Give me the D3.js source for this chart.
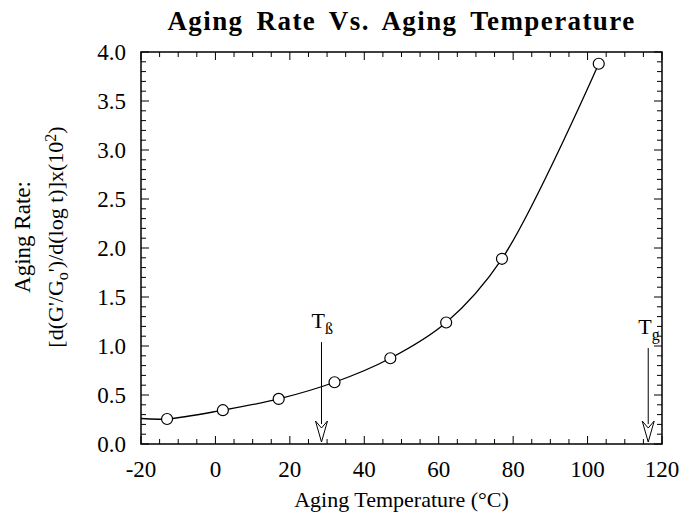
<!DOCTYPE html>
<html>
<head>
<meta charset="utf-8">
<script src="https://cdn.jsdelivr.net/npm/d3@7"></script>
<style>
  body { margin: 0; background: #fff; }
  text { font-family: "Liberation Serif", "Times New Roman", serif; fill: #000; }
</style>
</head>
<body>
<svg width="682" height="515"></svg>
<script>
const svg = d3.select('svg');

// data
const temperatura = [-13, 2, 17, 32, 47, 62, 77, 103];
const taxa = [0.255, 0.345, 0.46, 0.63, 0.875, 1.24, 1.89, 3.88];
const inicioLinha = [-20, 0.26];   // the curve starts on the left axis
const xTicks = [-20, 0, 20, 40, 60, 80, 100, 120];
const yTicks = [0.0, 0.5, 1.0, 1.5, 2.0, 2.5, 3.0, 3.5, 4.0];
const setas = [
  { nome: 'T', sub: 'ß', x: 28.5, topo: 1.04 },
  { nome: 'T', sub: 'g', x: 116.3, topo: 0.98 }
];

const marg = { cima: 52, direita: 20, baixo: 71, esquerda: 141 };
const largura = +svg.attr('width');
const altura = +svg.attr('height');
const innerLargura = largura - marg.esquerda - marg.direita;
const innerAltura = altura - marg.cima - marg.baixo;

const x = d3.scaleLinear().domain([-20, 120]).range([0, innerLargura]);
const y = d3.scaleLinear().domain([0, 4]).range([innerAltura, 0]);

const g = svg.append('g')
  .attr('transform', `translate(${marg.esquerda},${marg.cima})`);

// frame
g.append('rect')
  .attr('width', innerLargura).attr('height', innerAltura)
  .attr('fill', 'none').attr('stroke', '#000').attr('stroke-width', 1.5);

// ticks (inside, all four sides)
const xMinor = d3.range(-20, 120.1, 5);
const yMinor = d3.range(0, 4.001, 0.1);
const ticks = g.append('g').attr('stroke', '#000').attr('stroke-width', 1);
xMinor.forEach(v => {
  const len = (Math.abs(v % 20) < 1e-6) ? 8 : 5;
  ticks.append('line').attr('x1', x(v)).attr('x2', x(v)).attr('y1', innerAltura).attr('y2', innerAltura - len);
  ticks.append('line').attr('x1', x(v)).attr('x2', x(v)).attr('y1', 0).attr('y2', len);
});
yMinor.forEach(v => {
  const maj = Math.abs(v * 2 - Math.round(v * 2)) < 1e-6;
  const len = maj ? 8 : 5;
  ticks.append('line').attr('x1', 0).attr('x2', len).attr('y1', y(v)).attr('y2', y(v));
  ticks.append('line').attr('x1', innerLargura).attr('x2', innerLargura - len).attr('y1', y(v)).attr('y2', y(v));
});

// tick labels
g.append('g').selectAll('text').data(xTicks).enter().append('text')
  .attr('x', d => x(d)).attr('y', innerAltura + 33)
  .attr('text-anchor', 'middle').attr('font-size', 23)
  .text(d => d);
g.append('g').selectAll('text').data(yTicks).enter().append('text')
  .attr('x', -15).attr('y', d => y(d) + 8)
  .attr('text-anchor', 'end').attr('font-size', 23)
  .text(d => d.toFixed(1));

// curve
const pontos = [inicioLinha].concat(temperatura.map((t, i) => [t, taxa[i]]));
const linha = d3.line().x(d => x(d[0])).y(d => y(d[1])).curve(d3.curveCatmullRom.alpha(0.5));
g.append('path').datum(pontos)
  .attr('d', linha).attr('fill', 'none').attr('stroke', '#000').attr('stroke-width', 1.3);

g.selectAll('circle').data(temperatura).enter().append('circle')
  .attr('cx', d => x(d)).attr('cy', (d, i) => y(taxa[i]))
  .attr('r', 5.5).attr('fill', '#fff').attr('stroke', '#000').attr('stroke-width', 1.2);

// arrows
setas.forEach(s => {
  const ax = x(s.x);
  const base = innerAltura - 2;
  g.append('line').attr('x1', ax).attr('x2', ax).attr('y1', y(s.topo)).attr('y2', base - 18)
    .attr('stroke', '#000').attr('stroke-width', 1);
  g.append('path')
    .attr('d', `M${ax - 6},${base - 21} L${ax},${base - 14} L${ax + 6},${base - 21} L${ax},${base} Z`)
    .attr('fill', '#fff').attr('stroke', '#000').attr('stroke-width', 1);
  const t = g.append('text').attr('x', ax - 10).attr('y', y(s.topo) - 14).attr('font-size', 22);
  t.append('tspan').text(s.nome);
  t.append('tspan').attr('dy', 6).attr('font-size', 16).text(s.sub);
});

// title
svg.append('text')
  .attr('x', marg.esquerda + innerLargura / 2).attr('y', 30)
  .attr('text-anchor', 'middle').attr('font-size', 27).attr('font-weight', 'bold')
  .attr('letter-spacing', 1.4).attr('word-spacing', 5)
  .text('Aging Rate Vs. Aging Temperature');

// x axis title
svg.append('text')
  .attr('x', marg.esquerda + innerLargura / 2).attr('y', 507)
  .attr('text-anchor', 'middle').attr('font-size', 22)
  .text('Aging Temperature (°C)');

// y axis title (two lines)
const cy = 237;
svg.append('text')
  .attr('transform', `translate(30,${cy}) rotate(-90)`)
  .attr('text-anchor', 'middle').attr('font-size', 23)
  .text('Aging Rate:');
const yt = svg.append('text')
  .attr('transform', `translate(63,${cy}) rotate(-90)`)
  .attr('text-anchor', 'middle').attr('font-size', 22);
yt.append('tspan').text("[d(G'/G");
yt.append('tspan').attr('dy', 5).attr('font-size', 16).text('o');
yt.append('tspan').attr('dy', -5).text("')/d(log t)]x(10");
yt.append('tspan').attr('dy', -7).attr('font-size', 16).text('2');
yt.append('tspan').attr('dy', 7).text(')');
</script>
</body>
</html>
